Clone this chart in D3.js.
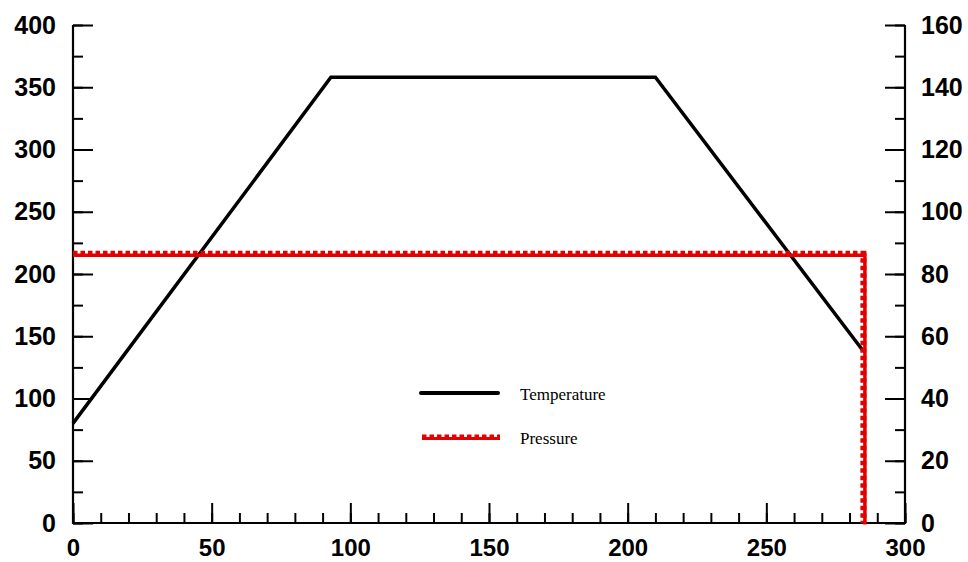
<!DOCTYPE html>
<html>
<head>
<meta charset="utf-8">
<script src="https://cdn.jsdelivr.net/npm/d3@7"></script>
<style>
  html, body { margin: 0; padding: 0; background: #fff; }
  svg { display: block; }
  .tick text { font-family: "Liberation Sans", Arial, sans-serif; font-weight: bold; font-size: 25px; fill: #000; }
  .xaxis .tick text { font-size: 24px; }
  .legend text { font-family: "Liberation Serif", "Times New Roman", serif; font-size: 17px; fill: #000; }
</style>
</head>
<body>
<svg id="chart" width="968" height="562"></svg>
<script>
// ---- data ----
const timeTicks = [0, 50, 100, 150, 200, 250, 300];
const tempTicks = [0, 50, 100, 150, 200, 250, 300, 350, 400];
const pressTicks = [0, 20, 40, 60, 80, 100, 120, 140, 160];

const tempTime = [0, 93, 210, 285];
const tempValues = [80, 358, 358, 138];

const pressTime = [0, 285, 285];
const pressValues = [86.5, 86.5, 0];

const seriesNames = ["Temperature", "Pressure"];

// ---- layout ----
const mLeft = 73, mRight = 905, mTop = 25, mBottom = 523;
const svg = d3.select("#chart");

const x = d3.scaleLinear().domain([0, 300]).range([mLeft, mRight]);
const yT = d3.scaleLinear().domain([0, 400]).range([mBottom, mTop]);
const yP = d3.scaleLinear().domain([0, 160]).range([mBottom, mTop]);

function styleAxis(g) {
  g.select(".domain").remove();
  g.selectAll(".tick line").attr("stroke", "#000").attr("stroke-width", 2);
}

// minor ticks
svg.append("g").attr("transform", `translate(0,${mBottom})`)
  .call(d3.axisBottom(x).tickValues(d3.range(0, 301, 10)).tickSizeInner(-10).tickFormat(""))
  .call(styleAxis);
svg.append("g").attr("transform", `translate(${mLeft},0)`)
  .call(d3.axisLeft(yT).tickValues(d3.range(0, 401, 25)).tickSizeInner(-10).tickFormat(""))
  .call(styleAxis);
svg.append("g").attr("transform", `translate(${mRight},0)`)
  .call(d3.axisRight(yP).tickValues(d3.range(0, 161, 10)).tickSizeInner(-10).tickFormat(""))
  .call(styleAxis);

// major ticks with labels
svg.append("g").attr("class", "xaxis").attr("transform", `translate(0,${mBottom})`)
  .call(d3.axisBottom(x).tickValues(timeTicks).tickSizeInner(-20).tickPadding(16).tickFormat(d3.format("d")))
  .call(styleAxis);
svg.append("g").attr("transform", `translate(${mLeft},0)`)
  .call(d3.axisLeft(yT).tickValues(tempTicks).tickSizeInner(-20).tickPadding(17).tickFormat(d3.format("d")))
  .call(styleAxis);
svg.append("g").attr("transform", `translate(${mRight},0)`)
  .call(d3.axisRight(yP).tickValues(pressTicks).tickSizeInner(-20).tickPadding(16).tickFormat(d3.format("d")))
  .call(styleAxis);

// axis lines (left, bottom, right)
svg.append("path")
  .attr("d", `M${mLeft},${mTop}V${mBottom}H${mRight}V${mTop}`)
  .attr("fill", "none").attr("stroke", "#000").attr("stroke-width", 2.2);

// temperature line
const tempData = tempTime.map((t, i) => [t, tempValues[i]]);
const lineT = d3.line().x(d => x(d[0])).y(d => yT(d[1]));
svg.append("path").datum(tempData)
  .attr("d", lineT)
  .attr("fill", "none").attr("stroke", "#000").attr("stroke-width", 3.5)
  .attr("stroke-linejoin", "miter");

// pressure line (solid red with dashed edge)
const pressData = pressTime.map((t, i) => [t, pressValues[i]]);
const lineP = d3.line().x(d => x(d[0])).y(d => yP(d[1]));
svg.append("path").datum(pressData)
  .attr("d", lineP)
  .attr("fill", "none").attr("stroke", "#e30000").attr("stroke-width", 6)
  .attr("stroke-dasharray", "4.5,3");
svg.append("path").datum(pressData)
  .attr("d", lineP)
  .attr("transform", "translate(1.5,1.5)")
  .attr("fill", "none").attr("stroke", "#e30000").attr("stroke-width", 3.5);

// legend
const lg = svg.append("g").attr("class", "legend");
lg.append("line").attr("x1", 421).attr("x2", 498).attr("y1", 393).attr("y2", 393)
  .attr("stroke", "#000").attr("stroke-width", 4).attr("stroke-linecap", "round");
lg.append("text").attr("x", 520).attr("y", 400).text(seriesNames[0]);

lg.append("line").attr("x1", 422).attr("x2", 500).attr("y1", 437).attr("y2", 437)
  .attr("stroke", "#e30000").attr("stroke-width", 5).attr("stroke-dasharray", "4.5,3");
lg.append("line").attr("x1", 422).attr("x2", 500).attr("y1", 438.5).attr("y2", 438.5)
  .attr("stroke", "#e30000").attr("stroke-width", 3);
lg.append("text").attr("x", 520).attr("y", 444).text(seriesNames[1]);
</script>
</body>
</html>
